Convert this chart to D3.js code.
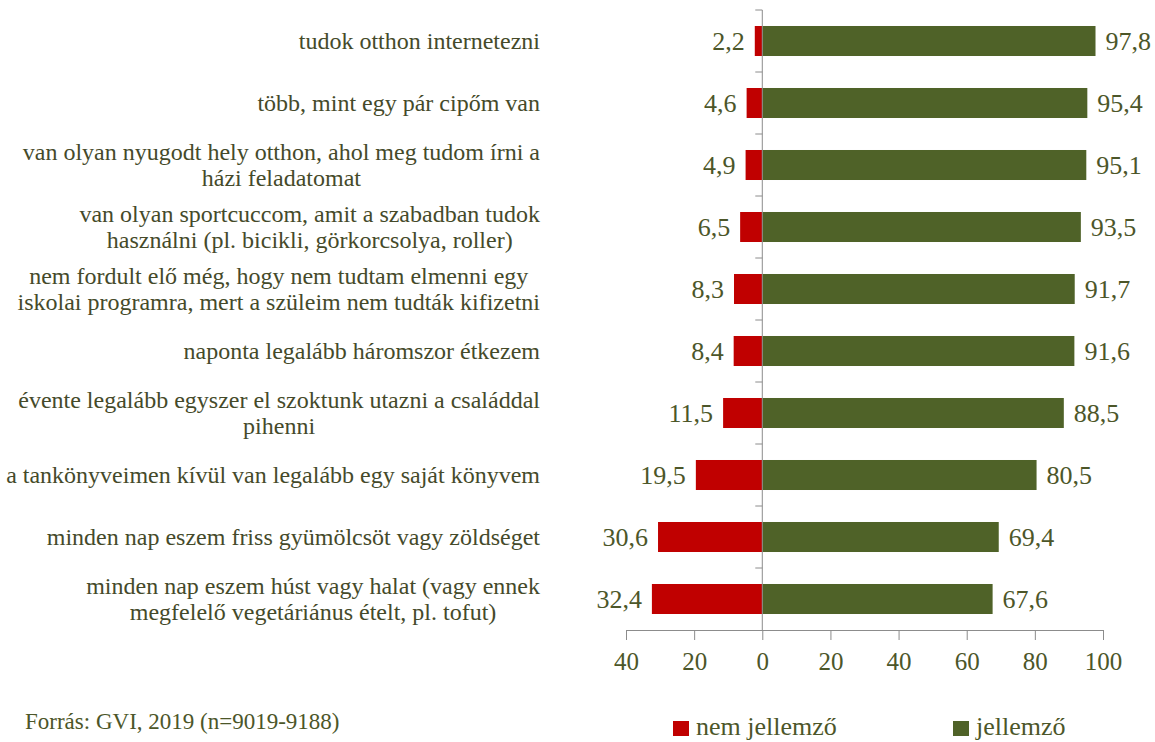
<!DOCTYPE html>
<html>
<head>
<meta charset="utf-8">
<script src="https://cdn.jsdelivr.net/npm/d3@7"></script>
<style>
  body { margin: 0; background: #fff; }
  svg { display: block; font-family: "Liberation Serif", "Times New Roman", serif; }
</style>
</head>
<body>
<script>
// category labels, lines separated by "|"
var categories = [
    "tudok otthon internetezni",
    "több, mint egy pár cipőm van",
    "van olyan nyugodt hely otthon, ahol meg tudom írni a|házi feladatomat",
    "van olyan sportcuccom, amit a szabadban tudok|használni (pl. bicikli, görkorcsolya, roller)",
    "nem fordult elő még, hogy nem tudtam elmenni egy|iskolai programra, mert a szüleim nem tudták kifizetni",
    "naponta legalább háromszor étkezem",
    "évente legalább egyszer el szoktunk utazni a családdal|pihenni",
    "a tankönyveimen kívül van legalább egy saját könyvem",
    "minden nap eszem friss gyümölcsöt vagy zöldséget",
    "minden nap eszem húst vagy halat (vagy ennek|megfelelő vegetáriánus ételt, pl. tofut)"
];
var nemJellemzo = [2.2, 4.6, 4.9, 6.5, 8.3, 8.4, 11.5, 19.5, 30.6, 32.4];
var jellemzo = [97.8, 95.4, 95.1, 93.5, 91.7, 91.6, 88.5, 80.5, 69.4, 67.6];
var xTicks = [-40, -20, 0, 20, 40, 60, 80, 100];
var seriesNames = ["nem jellemző", "jellemző"];
var source = "Forrás: GVI, 2019 (n=9019-9188)";

var width = 1155,
    height = 742;

var red = "#C00000",
    green = "#4F6228",
    textCol = "#454a2a",
    valCol = "#4c5629",
    axisCol = "#8c8c8c";

var svg = d3.select("body")
    .append("svg")
    .attr("width", width)
    .attr("height", height);

var x = d3.scaleLinear()
    .domain([-40, 100])
    .range([626, 1103]);

var y = d3.scaleBand()
    .domain(categories)
    .range([10, 630])
    .paddingInner(0.516)
    .paddingOuter(0.258);

var fmt = function(v){ return d3.format(".1f")(v).replace(".", ","); };

//bars
var rows = categories.map(function(c, i){
    return {cat: c, neg: nemJellemzo[i], pos: jellemzo[i]};
});

svg.selectAll(".neg")
    .data(rows)
    .enter()
    .append("rect")
    .attr("class", "neg")
    .attr("x", function(d){ return x(-d.neg); })
    .attr("y", function(d){ return y(d.cat); })
    .attr("width", function(d){ return x(0) - x(-d.neg); })
    .attr("height", y.bandwidth())
    .attr("fill", red);

svg.selectAll(".pos")
    .data(rows)
    .enter()
    .append("rect")
    .attr("class", "pos")
    .attr("x", x(0))
    .attr("y", function(d){ return y(d.cat); })
    .attr("width", function(d){ return x(d.pos) - x(0); })
    .attr("height", y.bandwidth())
    .attr("fill", green);

//value labels
svg.selectAll(".negLbl")
    .data(rows)
    .enter()
    .append("text")
    .attr("x", function(d){ return x(-d.neg) - 10; })
    .attr("y", function(d){ return y(d.cat) + y.bandwidth() / 2; })
    .attr("dy", "0.35em")
    .attr("text-anchor", "end")
    .attr("font-size", 26)
    .attr("fill", valCol)
    .text(function(d){ return fmt(d.neg); });

svg.selectAll(".posLbl")
    .data(rows)
    .enter()
    .append("text")
    .attr("x", function(d){ return x(d.pos) + 10; })
    .attr("y", function(d){ return y(d.cat) + y.bandwidth() / 2; })
    .attr("dy", "0.35em")
    .attr("font-size", 26)
    .attr("fill", valCol)
    .text(function(d){ return fmt(d.pos); });

//vertical axis at zero
var yAxis = svg.append("g")
    .attr("transform", "translate(" + x(0) + ",0)")
    .call(d3.axisLeft(y).tickSize(0).tickFormat(""));
yAxis.select(".domain").attr("stroke", axisCol).attr("d", "M0,10V630");
var bounds = y.domain().map(function(c){ return y(c) - y.step() * y.paddingInner() / 2; });
yAxis.selectAll(".bnd")
    .data(bounds)
    .enter()
    .append("line")
    .attr("x1", -7).attr("x2", 0)
    .attr("y1", function(d){ return d; })
    .attr("y2", function(d){ return d; })
    .attr("stroke", axisCol);

//horizontal axis
var xAxis = svg.append("g")
    .attr("transform", "translate(0,630)")
    .call(d3.axisBottom(x)
        .tickValues(xTicks)
        .tickSizeInner(10)
        .tickSizeOuter(0)
        .tickPadding(12)
        .tickFormat(function(d){ return Math.abs(d); }));
xAxis.select(".domain").attr("stroke", axisCol);
xAxis.selectAll(".tick line").attr("stroke", axisCol);
xAxis.selectAll(".tick text")
    .attr("font-family", "Liberation Serif, serif")
    .attr("font-size", 25)
    .attr("fill", valCol);

//category labels, lines centred on each other, block right aligned
var rightEdge = 540;
var lblGroups = svg.selectAll(".cat")
    .data(rows)
    .enter()
    .append("text")
    .attr("class", "cat")
    .attr("font-size", 24)
    .attr("fill", textCol)
    .attr("text-anchor", "middle");

lblGroups.each(function(d){
    var t = d3.select(this);
    var lines = d.cat.split("|");
    var cy = y(d.cat) + y.bandwidth() / 2;
    var lh = 26;
    lines.forEach(function(l, j){
        t.append("tspan")
            .attr("y", cy + (j - (lines.length - 1) / 2) * lh)
            .attr("dy", "0.35em")
            .text(l);
    });
    var maxW = 0;
    t.selectAll("tspan").each(function(){
        maxW = Math.max(maxW, this.getComputedTextLength());
    });
    t.selectAll("tspan").attr("x", rightEdge - maxW / 2);
});

//legend
var legend = [
    {name: seriesNames[0], color: red, x: 673},
    {name: seriesNames[1], color: green, x: 953}
];
var lg = svg.selectAll(".legend")
    .data(legend)
    .enter()
    .append("g")
    .attr("transform", function(d){ return "translate(" + d.x + ",721)"; });
lg.append("rect")
    .attr("width", 16)
    .attr("height", 15)
    .attr("fill", function(d){ return d.color; });
lg.append("text")
    .attr("x", 23)
    .attr("y", 14)
    .attr("font-size", 26)
    .attr("fill", valCol)
    .text(function(d){ return d.name; });

//source
svg.append("text")
    .attr("x", 25)
    .attr("y", 729)
    .attr("font-size", 23)
    .attr("fill", valCol)
    .text(source);
</script>
</body>
</html>
